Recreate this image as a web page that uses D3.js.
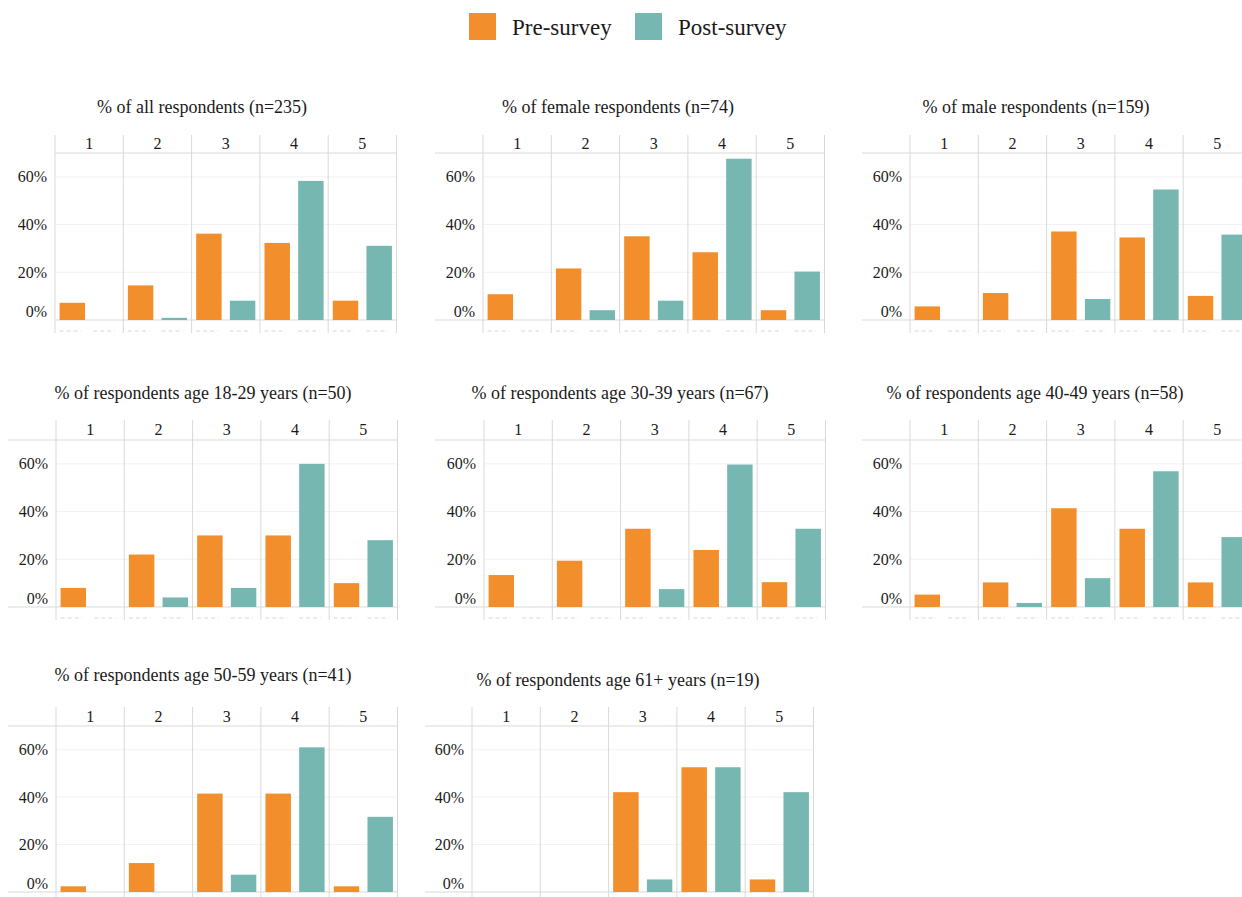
<!DOCTYPE html>
<html>
<head>
<meta charset="utf-8">
<script src="https://cdn.jsdelivr.net/npm/d3@7"></script>
<style>
  html, body { margin: 0; padding: 0; background: #fff; overflow: hidden; }
  svg { display: block; }
  text { font-family: "Liberation Serif", "Times New Roman", serif; fill: #1a1a1a; }
</style>
</head>
<body>
<svg id="chart" width="1242" height="897"></svg>
<script>
// Rating categories and series
const ratings = ["1", "2", "3", "4", "5"];
const series = ["Pre-survey", "Post-survey"];
const yTicks = [0, 20, 40, 60];

// Share of respondents (%) per rating, pre and post survey
const allPre = [7.2, 14.5, 36.2, 32.3, 8.1];
const allPost = [0, 0.9, 8.1, 58.3, 31.1];
const femalePre = [10.8, 21.6, 35.1, 28.4, 4.1];
const femalePost = [0, 4.1, 8.1, 67.6, 20.3];
const malePre = [5.7, 11.3, 37.1, 34.6, 10.1];
const malePost = [0, 0, 8.8, 54.7, 35.8];
const age1829Pre = [8, 22, 30, 30, 10];
const age1829Post = [0, 4, 8, 60, 28];
const age3039Pre = [13.4, 19.4, 32.8, 23.9, 10.4];
const age3039Post = [0, 0, 7.5, 59.7, 32.8];
const age4049Pre = [5.2, 10.3, 41.4, 32.8, 10.3];
const age4049Post = [0, 1.7, 12.1, 56.9, 29.3];
const age5059Pre = [2.4, 12.2, 41.5, 41.5, 2.4];
const age5059Post = [0, 0, 7.3, 61.0, 31.7];
const age61Pre = [0, 0, 42.1, 52.6, 5.3];
const age61Post = [0, 0, 5.3, 52.6, 42.1];

const panelTitles = [
  "% of all respondents (n=235)",
  "% of female respondents (n=74)",
  "% of male respondents (n=159)",
  "% of respondents age 18-29 years (n=50)",
  "% of respondents age 30-39 years (n=67)",
  "% of respondents age 40-49 years (n=58)",
  "% of respondents age 50-59 years (n=41)",
  "% of respondents age 61+ years (n=19)"
];
const panelValues = [
  [allPre, allPost], [femalePre, femalePost], [malePre, malePost],
  [age1829Pre, age1829Post], [age3039Pre, age3039Post], [age4049Pre, age4049Post],
  [age5059Pre, age5059Post], [age61Pre, age61Post]
];

// Panel placement on the page
const facetW = 68.3;
const layout = [
  { x0: 55,  hx: 55,  top: 135, strip: 153, base: 320, tx: 202, ty: 107 },
  { x0: 483, hx: 435, top: 135, strip: 153, base: 320, tx: 618, ty: 107 },
  { x0: 910, hx: 862, top: 135, strip: 153, base: 320, tx: 1036, ty: 107 },
  { x0: 56,  hx: 8,   top: 420, strip: 440, base: 607, tx: 203, ty: 393 },
  { x0: 484, hx: 435, top: 420, strip: 440, base: 607, tx: 620, ty: 393 },
  { x0: 910, hx: 862, top: 420, strip: 440, base: 607, tx: 1035, ty: 393 },
  { x0: 56,  hx: 8,   top: 707, strip: 726, base: 892, tx: 203, ty: 675 },
  { x0: 472, hx: 425, top: 707, strip: 726, base: 892, tx: 618, ty: 680 }
];

const color = d3.scaleOrdinal().domain(series).range(["#F28E2B", "#76B7B2"]);
const lineCol = "#d9d9d9";
const gridCol = "#f1f1f1";

const svg = d3.select("#chart");

// Legend
const legend = svg.append("g");
const legendX = [469, 635];
series.forEach((s, i) => {
  legend.append("rect").attr("x", legendX[i]).attr("y", 13).attr("width", 27).attr("height", 27)
    .attr("fill", color(s));
  legend.append("text").attr("x", legendX[i] + 43).attr("y", 35).attr("font-size", 23).text(s);
});

panelTitles.forEach((title, p) => {
  const L = layout[p];
  const [pre, post] = panelValues[p];
  const x1 = L.x0 + facetW * ratings.length;
  const g = svg.append("g");

  const xFacet = d3.scaleBand().domain(ratings).range([L.x0, x1]).paddingInner(0).paddingOuter(0);
  const xInner = d3.scaleBand().domain(series).range([0, xFacet.bandwidth()])
    .paddingInner(0.245).paddingOuter(0.136);
  const y = d3.scaleLinear().domain([0, 70]).range([L.base, L.strip]);

  // title
  g.append("text").attr("x", L.tx).attr("y", L.ty + 6).attr("text-anchor", "middle")
    .attr("font-size", 18).text(title);

  // horizontal gridlines
  g.selectAll(".grid").data(yTicks.filter(d => d > 0)).join("line")
    .attr("x1", L.x0).attr("x2", x1)
    .attr("y1", d => y(d)).attr("y2", d => y(d))
    .attr("stroke", gridCol).attr("stroke-width", 1);

  // strip bottom line and baseline
  [L.strip, L.base].forEach(yy => {
    g.append("line").attr("x1", L.hx).attr("x2", x1).attr("y1", yy).attr("y2", yy)
      .attr("stroke", lineCol).attr("stroke-width", 1);
  });

  // facet separators
  const seps = ratings.map(r => xFacet(r)).concat([x1]);
  g.selectAll(".sep").data(seps).join("line")
    .attr("x1", d => d).attr("x2", d => d)
    .attr("y1", L.top).attr("y2", L.base + 13)
    .attr("stroke", lineCol).attr("stroke-width", 1);

  // strip labels
  g.selectAll(".strip").data(ratings).join("text")
    .attr("x", d => xFacet(d) + xFacet.bandwidth() / 2)
    .attr("y", (L.top + L.strip) / 2 + 5)
    .attr("text-anchor", "middle").attr("font-size", 16).text(d => d);

  // y axis labels
  const yAxis = d3.axisLeft(y).tickValues(yTicks).tickSize(0).tickPadding(8)
    .tickFormat(d => d + "%");
  const ax = g.append("g").attr("transform", `translate(${L.x0},0)`).call(yAxis);
  ax.select(".domain").remove();
  ax.selectAll("text").attr("font-size", 16)
    .attr("font-family", "'Liberation Serif', 'Times New Roman', serif").attr("fill", "#1a1a1a")
    .attr("dy", d => d === 0 ? "-0.2em" : "0.32em");

  // bars
  ratings.forEach((r, i) => {
    const vals = [pre[i], post[i]];
    series.forEach((s, k) => {
      const bx = xFacet(r) + xInner(s);
      if (vals[k] > 0) {
        g.append("rect").attr("x", bx).attr("width", xInner.bandwidth())
          .attr("y", y(vals[k])).attr("height", y(0) - y(vals[k]))
          .attr("fill", color(s));
      }
      // faint dashed placeholder under each bar
      g.append("line").attr("x1", bx).attr("x2", bx + xInner.bandwidth() * 0.85)
        .attr("y1", L.base + 11).attr("y2", L.base + 11)
        .attr("stroke", "#d6d6d6").attr("stroke-width", 1).attr("stroke-dasharray", "4,3");
    });
  });
});
</script>
</body>
</html>
